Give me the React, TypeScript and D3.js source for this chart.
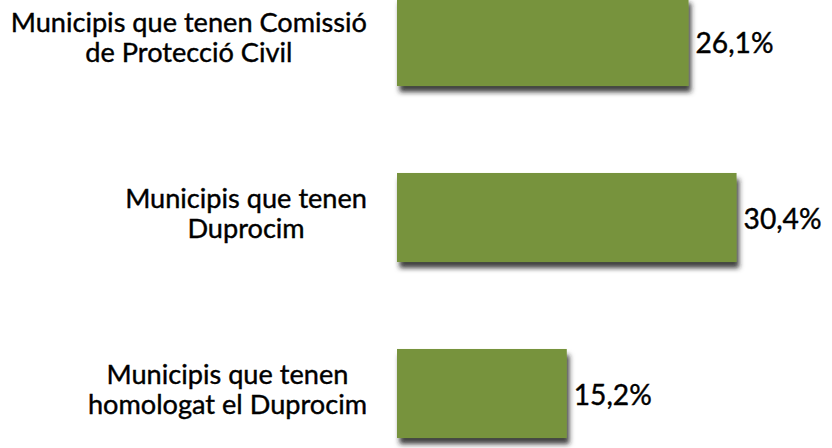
import React, { useEffect, useRef } from "react";
import * as d3 from "d3";

const categories: string[][] = [
  ["Municipis que tenen Comissió", "de Protecció Civil"],
  ["Municipis que tenen", "Duprocim"],
  ["Municipis que tenen", "homologat el Duprocim"],
];
const values: number[] = [26.1, 30.4, 15.2];
const valueLabels: string[] = ["26,1%", "30,4%", "15,2%"];

const W = 832;
const H = 448;
const FONT = "Lato, 'Open Sans', 'DejaVu Sans', sans-serif";

export default function App() {
  const ref = useRef<SVGSVGElement>(null);

  useEffect(() => {
    const svg = d3.select(ref.current);
    svg.selectAll("*").remove();

    const keys = categories.map((c) => c.join(" "));
    const x = d3.scaleLinear().domain([0, 35]).range([397, 397 + 35 * 11.17]);
    const y = d3
      .scaleBand<string>()
      .domain(keys)
      .range([-46.5, 481.5])
      .paddingInner(0.494)
      .paddingOuter(0.247);

    const defs = svg.append("defs");
    const f = defs
      .append("filter")
      .attr("id", "shadow")
      .attr("x", "-10%")
      .attr("y", "-20%")
      .attr("width", "130%")
      .attr("height", "150%");
    f.append("feDropShadow")
      .attr("dx", 2.5)
      .attr("dy", 6)
      .attr("stdDeviation", 2.5)
      .attr("flood-color", "#222")
      .attr("flood-opacity", 0.85);

    svg.append("rect").attr("width", W).attr("height", H).attr("fill", "#fff");

    // probe font sizes
    const probe = svg
      .append("text")
      .attr("font-family", FONT)
      .attr("font-size", 29)
      .text("Municipis que tenen");
    const pw = (probe.node() as SVGTextElement).getComputedTextLength() || 242;
    const catSize = (29 * 242) / pw;
    probe.attr("font-size", 31).text("15,2%");
    const vw = (probe.node() as SVGTextElement).getComputedTextLength() || 78;
    const valSize = (31 * 78) / vw;
    probe.remove();

    const g = svg.append("g");
    g.selectAll("rect.bar")
      .data(values)
      .join("rect")
      .attr("class", "bar")
      .attr("x", x(0))
      .attr("y", (_, i) => y(keys[i])!)
      .attr("width", (d) => x(d) - x(0))
      .attr("height", y.bandwidth())
      .attr("fill", "#77933C")
      .attr("filter", "url(#shadow)");

    g.selectAll("text.val")
      .data(values)
      .join("text")
      .attr("class", "val")
      .attr("x", (d) => x(d) + 7)
      .attr("y", (_, i) => y(keys[i])! + y.bandwidth() / 2 + 11)
      .attr("font-family", FONT)
      .attr("font-size", valSize)
      .attr("fill", "#000")
      .attr("stroke", "#000")
      .attr("stroke-width", 0.4)
      .text((_, i) => valueLabels[i]);

    categories.forEach((lines, i) => {
      const cy = y(keys[i])! + y.bandwidth() / 2;
      const t = svg
        .append("text")
        .attr("font-family", FONT)
        .attr("font-size", catSize)
        .attr("text-anchor", "middle")
        .attr("fill", "#000")
        .attr("stroke", "#000")
        .attr("stroke-width", 0.4);
      const spans = lines.map((ln, j) =>
        t
          .append("tspan")
          .attr("y", cy - 10 + j * 30)
          .text(ln)
      );
      const maxW = d3.max(spans, (s) => (s.node() as SVGTSpanElement).getComputedTextLength()) || 0;
      spans.forEach((s) => s.attr("x", 367 - maxW / 2));
    });
  }, []);

  return (
    <svg
      ref={ref}
      width={W}
      height={H}
      style={{ position: "absolute", left: 0, top: 0, display: "block" }}
    />
  );
}
